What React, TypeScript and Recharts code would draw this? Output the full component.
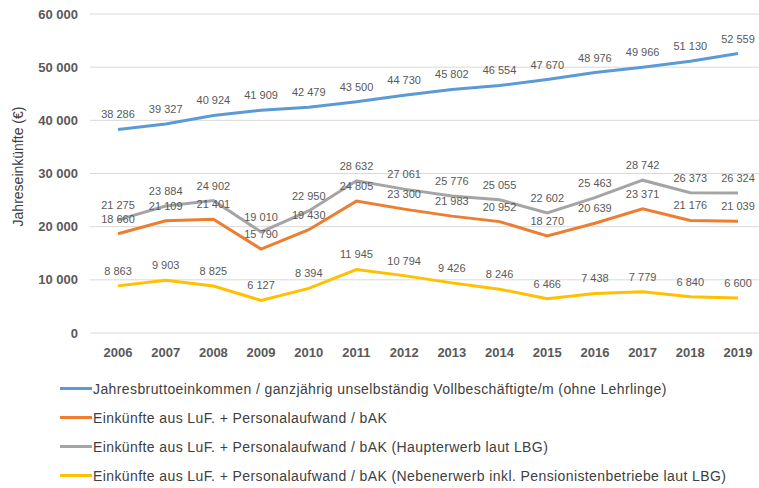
import { LineChart, Line, XAxis, YAxis, CartesianGrid, LabelList } from 'recharts';

const YEARS = ['2006', '2007', '2008', '2009', '2010', '2011', '2012', '2013', '2014', '2015', '2016', '2017', '2018', '2019'];
const BRUTTO = [38286, 39327, 40924, 41909, 42479, 43500, 44730, 45802, 46554, 47670, 48976, 49966, 51130, 52559];
const BAK = [18660, 21109, 21401, 15790, 19430, 24805, 23300, 21983, 20952, 18270, 20639, 23371, 21176, 21039];
const HAUPT = [21275, 23884, 24902, 19010, 22950, 28632, 27061, 25776, 25055, 22602, 25463, 28742, 26373, 26324];
const NEBEN = [8863, 9903, 8825, 6127, 8394, 11945, 10794, 9426, 8246, 6466, 7438, 7779, 6840, 6600];
const Y_TICKS = [0, 10000, 20000, 30000, 40000, 50000, 60000];

const SERIES = [
  { key: 'brutto', values: BRUTTO, color: '#5B9BD5', name: 'Jahresbruttoeinkommen / ganzjährig unselbständig Vollbeschäftigte/m (ohne Lehrlinge)' },
  { key: 'bak', values: BAK, color: '#ED7D31', name: 'Einkünfte aus LuF. + Personalaufwand / bAK' },
  { key: 'haupt', values: HAUPT, color: '#A5A5A5', name: 'Einkünfte aus LuF. + Personalaufwand / bAK (Haupterwerb laut LBG)' },
  { key: 'neben', values: NEBEN, color: '#FFC000', name: 'Einkünfte aus LuF. + Personalaufwand / bAK (Nebenerwerb inkl. Pensionistenbetriebe laut LBG)' },
];

const fmt = (v: any) => String(v).replace(/\B(?=(\d{3})+(?!\d))/g, ' ');

const FONT = "'Liberation Sans', Arial, sans-serif";

export default function App() {
  const data = YEARS.map((year, i) => {
    const row: Record<string, any> = { year };
    SERIES.forEach((s) => { row[s.key] = s.values[i]; });
    return row;
  });

  return (
    <div style={{ position: 'absolute', left: 0, top: 0, width: 759, height: 488, background: '#fff', fontFamily: FONT }}>
      <LineChart width={759} height={488} data={data} margin={{ top: 14, right: 0, bottom: 125, left: 0 }}>
        <CartesianGrid vertical={false} stroke="#d9d9d9" />
        <XAxis
          dataKey="year"
          padding={{ left: 28, right: 21 }}
          axisLine={false}
          tickLine={false}
          tickSize={0}
          tickMargin={15}
          height={30}
          tick={{ fontSize: 13, fontWeight: 700, fill: '#595959', fontFamily: FONT }}
        />
        <YAxis
          width={90}
          domain={[0, 60000]}
          ticks={Y_TICKS}
          tickFormatter={fmt}
          axisLine={false}
          tickLine={false}
          tickSize={0}
          tickMargin={12}
          tick={{ fontSize: 13, fontWeight: 700, fill: '#595959', fontFamily: FONT }}
          label={{ value: 'Jahreseinkünfte (€)', angle: -90, position: 'insideLeft', dx: 13, dy: -7, style: { fontSize: 14, fill: '#404040', fontFamily: FONT, textAnchor: 'middle' } }}
        />
        {SERIES.map((s) => (
          <Line key={s.key} dataKey={s.key} stroke={s.color} strokeWidth={3} dot={false} isAnimationActive={false}>
            <LabelList dataKey={s.key} position="top" offset={11} formatter={fmt} style={{ fontSize: 11, fill: '#595959', fontFamily: FONT }} />
          </Line>
        ))}
      </LineChart>
      <div style={{ position: 'absolute', left: 60, top: 374, fontSize: 14, letterSpacing: 0.4, color: '#404040' }}>
        {SERIES.map((s) => (
          <div key={s.key} style={{ display: 'flex', alignItems: 'center', height: 29 }}>
            <span style={{ display: 'inline-block', width: 32, height: 3, background: s.color, marginRight: 1 }} />
            <span>{s.name}</span>
          </div>
        ))}
      </div>
    </div>
  );
}
